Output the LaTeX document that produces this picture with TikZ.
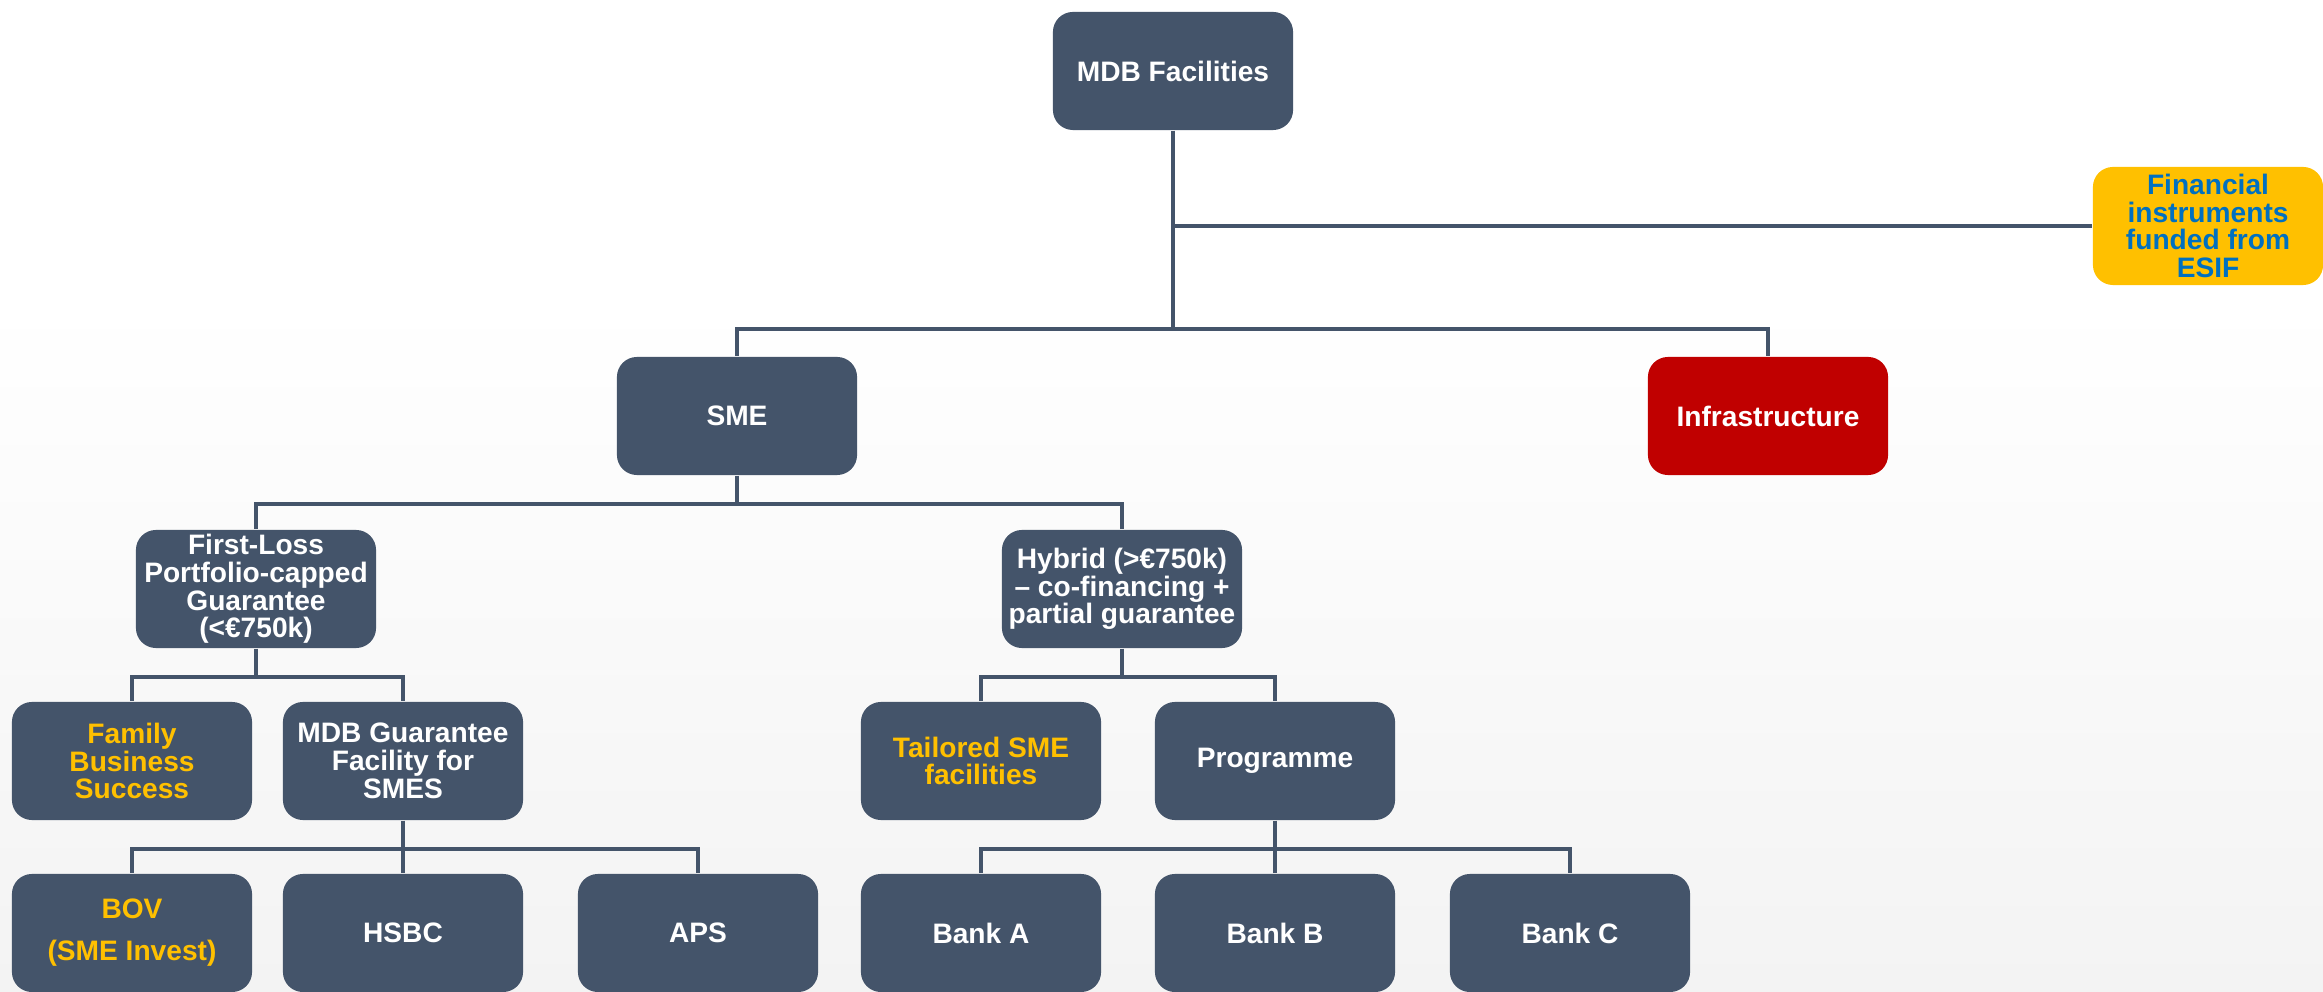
\documentclass[tikz,border=0pt]{standalone}
\usepackage{fontspec}
\setmainfont{Liberation Sans}
\definecolor{slate}{HTML}{44546A}
\definecolor{amber}{HTML}{FFC000}
\definecolor{crimson}{HTML}{C00000}
\definecolor{azure}{HTML}{0070C0}
\definecolor{paper}{HTML}{F3F3F3}

\begin{document}
\begin{tikzpicture}[x=0.01cm,y=-0.01cm,
    box/.style={rectangle,rounded corners=0.2cm,fill=slate,text=white,
      font=\fontsize{8}{7.9}\selectfont\bfseries,align=center,
      minimum width=2.4cm,minimum height=1.18cm,inner sep=1pt},
    gold/.style={box,text=amber},
    link/.style={draw=slate,line width=0.9pt}]
  % page and background
  \useasboundingbox (0,0) rectangle (2323,992);
  \fill[white] (0,0) rectangle (2323,300);
  \shade[top color=white,bottom color=paper] (0,300) rectangle (2323,992);

  % boxes
  \node[box] (mdb) at (1173,71) {MDB Facilities};
  \node[box,fill=amber,text=azure,minimum width=2.3cm] (esif) at (2208,226)
    {Financial\\instruments\\funded from\\ESIF};
  \node[box] (sme) at (737,416) {SME};
  \node[box,fill=crimson] (infra) at (1768,416) {Infrastructure};
  \node[box] (flg) at (256,589) {First-Loss\\Portfolio-capped\\Guarantee\\(<€750k)};
  \node[box] (hybrid) at (1122,589) {Hybrid (>€750k)\\– co-financing +\\partial guarantee};
  \node[gold] (family) at (132,761) {Family\\Business\\Success};
  \node[box] (mdbg) at (403,761) {MDB Guarantee\\Facility for\\SMES};
  \node[gold] (tailored) at (981,761) {Tailored SME\\facilities};
  \node[box] (prog) at (1275,761) {Programme};
  \node[gold] (bov) at (132,933) {BOV\\[4pt](SME Invest)};
  \node[box] (hsbc) at (403,933) {HSBC};
  \node[box] (aps) at (698,933) {APS};
  \node[box] (banka) at (981,933) {Bank A};
  \node[box] (bankb) at (1275,933) {Bank B};
  \node[box] (bankc) at (1570,933) {Bank C};

  % bus points
  \coordinate (topbus) at (1173,329);
  \coordinate (smebus) at (737,504);
  \coordinate (flgbus) at (256,677);
  \coordinate (hybbus) at (1122,677);
  \coordinate (mdbgbus) at (403,849);
  \coordinate (progbus) at (1275,849);

  % connectors
  \draw[link] (mdb.south) -- (topbus) -| (sme.north);
  \draw[link] (topbus) -| (infra.north);
  \draw[link] (mdb.south |- esif.west) -- (esif.west);
  \draw[link] (sme.south) -- (smebus) -| (flg.north);
  \draw[link] (smebus) -| (hybrid.north);
  \draw[link] (flg.south) -- (flgbus) -| (family.north);
  \draw[link] (flgbus) -| (mdbg.north);
  \draw[link] (hybrid.south) -- (hybbus) -| (tailored.north);
  \draw[link] (hybbus) -| (prog.north);
  \draw[link] (mdbg.south) -- (mdbgbus) -| (bov.north);
  \draw[link] (mdbgbus) -| (aps.north);
  \draw[link] (mdbgbus) -- (hsbc.north);
  \draw[link] (prog.south) -- (progbus) -| (banka.north);
  \draw[link] (progbus) -| (bankc.north);
  \draw[link] (progbus) -- (bankb.north);
\end{tikzpicture}
\end{document}
